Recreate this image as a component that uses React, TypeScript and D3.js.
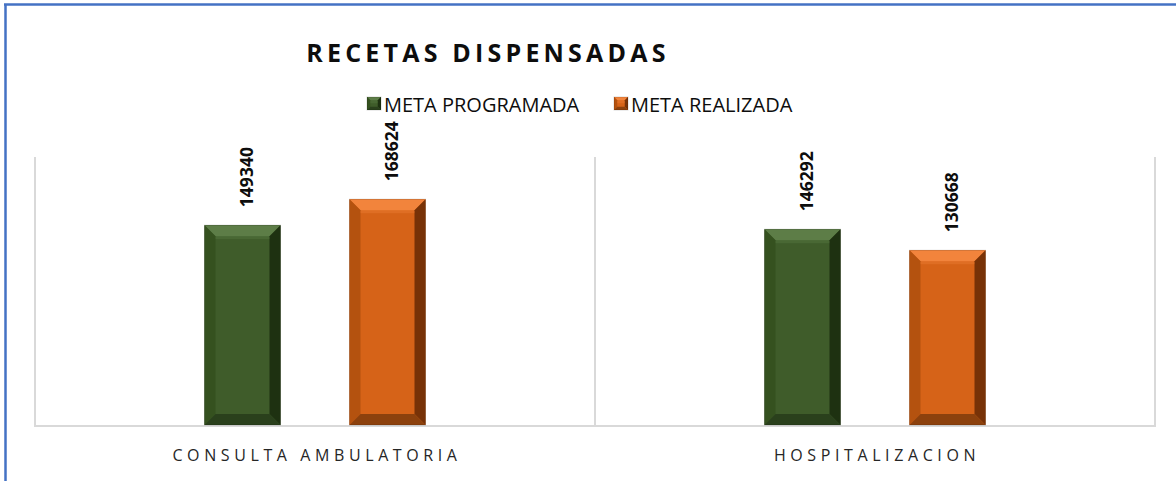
import * as d3 from "d3";

const categories = ["CONSULTA AMBULATORIA", "HOSPITALIZACION"];
const seriesNames = ["META PROGRAMADA", "META REALIZADA"];
const programada = [149340, 146292];
const realizada = [168624, 130668];

const W = 1176;
const H = 481;
const plot = { left: 35, right: 1155, top: 157, bottom: 426 };

// bevel shades per series: body, top, left, right, bottom
const SHADES = [
  { body: "#3f5c2a", top: "#5d7d47", left: "#35511f", right: "#1e3111", bottom: "#2a401c" },
  { body: "#d66318", top: "#f2843c", left: "#b4520f", right: "#773207", bottom: "#8c410d" },
];

function BevelBar({ x, y, w, h, s }: { x: number; y: number; w: number; h: number; s: typeof SHADES[number] }) {
  const b = Math.min(11, w / 4, h / 4);
  const x2 = x + w;
  const y2 = y + h;
  return (
    <g>
      <rect x={x} y={y} width={w} height={h} fill={s.body} />
      <polygon points={`${x},${y} ${x2},${y} ${x2 - b},${y + b} ${x + b},${y + b}`} fill={s.top} />
      <polygon points={`${x},${y} ${x + b},${y + b} ${x + b},${y2 - b} ${x},${y2}`} fill={s.left} />
      <polygon points={`${x2},${y} ${x2},${y2} ${x2 - b},${y2 - b} ${x2 - b},${y + b}`} fill={s.right} />
      <polygon points={`${x},${y2} ${x2},${y2} ${x2 - b},${y2 - b} ${x + b},${y2 - b}`} fill={s.bottom} />
      <rect x={x + b} y={y + b} width={Math.max(0, w - 2 * b)} height={3} fill={s.top} opacity={0.35} />
      <rect x={x} y={y} width={w} height={h} fill="none" stroke="#000" strokeOpacity={0.15} strokeWidth={1} />
    </g>
  );
}

export default function App() {
  const x0 = d3.scaleBand<string>().domain(categories).range([plot.left, plot.right]).paddingInner(0).paddingOuter(0);
  const y = d3.scaleLinear().domain([0, 200000]).range([plot.bottom, plot.top]);
  const barW = 76;
  const offsets = [-72.5, 72.5];
  const series = [programada, realizada];
  const font = "Open Sans, 'Noto Sans', sans-serif";

  return (
    <div style={{ position: "fixed", left: 0, top: 0, width: W, height: H, background: "#fff" }}>
      <svg width={W} height={H} style={{ display: "block" }}>
        {/* outer frame */}
        <line x1={5.5} x2={5.5} y1={4} y2={H} stroke="#4472c4" strokeWidth={2.5} />
        <line x1={4} x2={W} y1={4.5} y2={4.5} stroke="#4472c4" strokeWidth={2.5} />

        {/* title */}
        <text x={488} y={62} textAnchor="middle" fontFamily={font} fontWeight={700} fontSize={25} letterSpacing={4.2} fill="#0d0d0d">
          RECETAS DISPENSADAS
        </text>

        {/* legend */}
        {seriesNames.map((n, i) => {
          const lx = i === 0 ? 367 : 614;
          return (
            <g key={n}>
              <BevelBar x={lx} y={97} w={14} h={13} s={SHADES[i]} />
              <text x={lx + 17} y={112} fontFamily={font} fontSize={20} fill="#0d0d0d">{n}</text>
            </g>
          );
        })}

        {/* gridlines / category separators */}
        {[plot.left, ...categories.map((c) => (x0(c) ?? 0) + x0.bandwidth())].map((gx, i) => (
          <line key={i} x1={gx} x2={gx} y1={plot.top} y2={plot.bottom} stroke="#d9d9d9" strokeWidth={2} />
        ))}
        <line x1={plot.left - 1} x2={plot.right + 1} y1={plot.bottom} y2={plot.bottom} stroke="#d9d9d9" strokeWidth={2} />

        {/* bars */}
        {categories.map((c, ci) => {
          const cx = (x0(c) ?? 0) + x0.bandwidth() / 2;
          return series.map((vals, si) => {
            const v = vals[ci];
            const bx = cx + offsets[si] - barW / 2;
            const by = y(v);
            const lx = cx + offsets[si] + 10;
            return (
              <g key={`${c}-${si}`}>
                <BevelBar x={bx} y={by} w={barW} h={plot.bottom - 1 - by} s={SHADES[si]} />
                <text
                  transform={`translate(${lx},${by - 18}) rotate(-90)`}
                  fontFamily={font}
                  fontWeight={700}
                  fontSize={17.5}
                  fill="#0d0d0d"
                >
                  {v}
                </text>
              </g>
            );
          });
        })}

        {/* category labels */}
        {categories.map((c) => (
          <text
            key={c}
            x={(x0(c) ?? 0) + x0.bandwidth() / 2 + 2}
            y={461}
            textAnchor="middle"
            fontFamily={font}
            fontSize={16}
            letterSpacing={4.6}
            fill="#262626"
          >
            {c}
          </text>
        ))}
      </svg>
    </div>
  );
}
